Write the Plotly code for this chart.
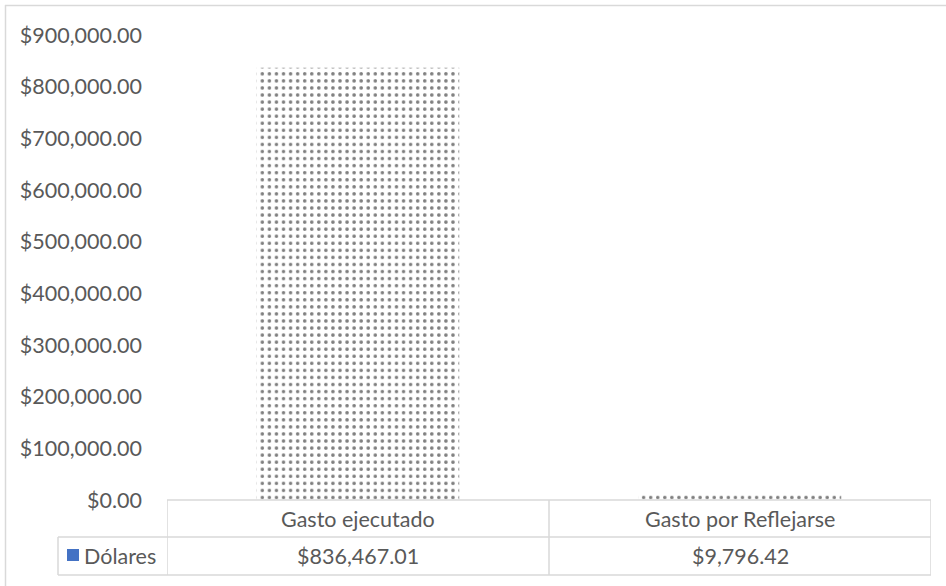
import plotly.graph_objects as go

categories = ["Gasto ejecutado", "Gasto por Reflejarse"]
values = [836467.01, 9796.42]
series_name = "Dólares"
y_ticks = [0, 100000, 200000, 300000, 400000, 500000, 600000, 700000, 800000, 900000]

FONT = "Lato, sans-serif"
FS = 21.5
TXT = "#595959"
LINE = "#d9d9d9"

W, H = 946, 586
L, R, T, B = 167, 15, 35, 86
pw, ph = W - L - R, H - T - B

def px(x):
    return (x - L) / pw

def py(y):
    return (H - B - y) / ph

# pattern tile chosen so a dot row sits ~2.5px above the baseline
tile = (ph - 2.5) / 65.5

fig = go.Figure()
fig.add_trace(go.Bar(
    x=list(range(len(categories))), y=values, name=series_name,
    marker=dict(color="white", line=dict(width=0),
                pattern=dict(shape=".", fgcolor="black", bgcolor="white", size=tile, solidity=0.2)),
    width=0.53, hoverinfo="skip"))

shapes = []
LW = 1.5
def line(x0, x1, y0, y1, xref="paper"):
    shapes.append(dict(type="line", xref=xref, yref="paper", x0=x0, x1=x1, y0=y0, y1=y1,
                       line=dict(color=LINE, width=LW)))

n = len(categories)
# table lines
line(-0.5, n - 0.5, 0, 0, xref="x")
for yy in (537, 575):
    line(px(58), 1, py(yy), py(yy))
line(px(58), px(58), py(537), py(575))
for i in range(n + 1):
    line(i - 0.5, i - 0.5, py(500), py(575), xref="x")
# outer chart border
line(px(5), px(946), py(5.5), py(5.5))
line(px(5.5), px(5.5), py(5), py(590))
# legend key
shapes.append(dict(type="rect", xref="paper", yref="paper", x0=px(67), x1=px(79), y0=py(549), y1=py(561),
                   fillcolor="#4472C4", line=dict(width=0)))

annotations = []
for i, c in enumerate(categories):
    annotations.append(dict(x=i, y=py(518.5), xref="x", yref="paper", text=c, showarrow=False,
                            font=dict(family=FONT, size=FS, color=TXT), xanchor="center", yanchor="middle"))
    annotations.append(dict(x=i, y=py(556), xref="x", yref="paper", text="${:,.2f}".format(values[i]),
                            showarrow=False, font=dict(family=FONT, size=FS, color=TXT),
                            xanchor="center", yanchor="middle"))
annotations.append(dict(x=px(82), y=py(556), xref="paper", yref="paper", text=series_name, showarrow=False,
                        font=dict(family=FONT, size=FS, color=TXT), xanchor="left", yanchor="middle"))

fig.update_layout(
    width=W, height=H, margin=dict(l=L, r=R, t=T, b=B),
    paper_bgcolor="white", plot_bgcolor="white", showlegend=False,
    xaxis=dict(range=[-0.5, n - 0.5], showticklabels=False, showgrid=False, zeroline=False,
               showline=False, ticks="", fixedrange=True),
    yaxis=dict(range=[0, 900000], tickvals=y_ticks, tickformat="$,.2f", showgrid=False,
               zeroline=False, showline=False, ticks="", ticklabelstandoff=24,
               tickfont=dict(family=FONT, size=FS, color=TXT)),
    shapes=shapes, annotations=annotations,
)

fig.write_html("out.html", config={"displayModeBar": False},
               post_script="document.body.style.margin='0px';document.body.style.overflow='hidden';")
